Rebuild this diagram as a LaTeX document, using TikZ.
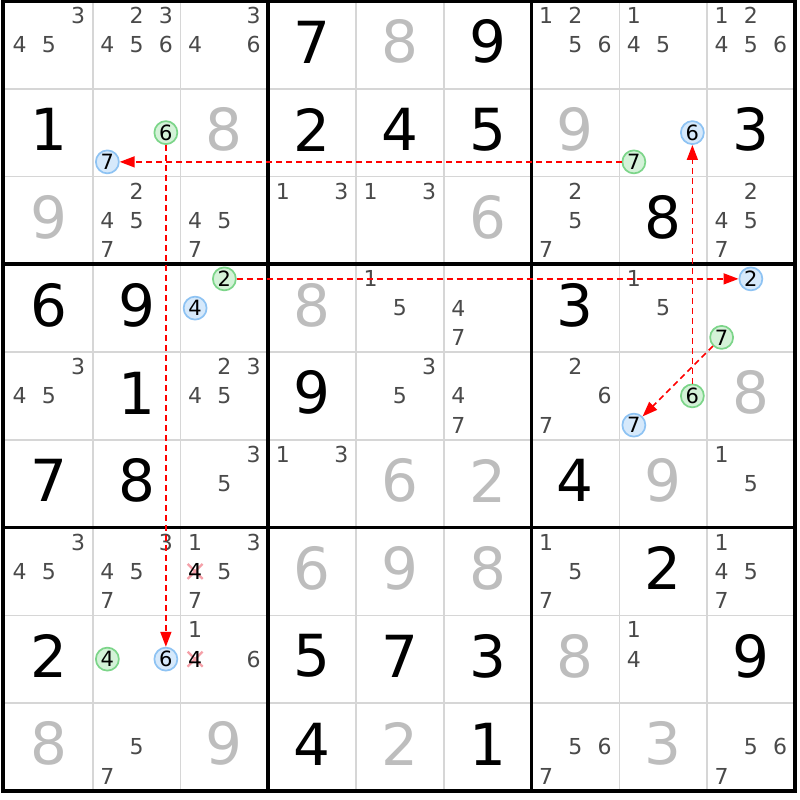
\documentclass[tikz,border=0pt]{standalone}
\usepackage{fontspec}
\setmainfont{DejaVu Sans}
\usetikzlibrary{arrows.meta}
\definecolor{thinc}{HTML}{D6D6D6}
\definecolor{candc}{HTML}{4A4A4A}
\definecolor{solvc}{HTML}{BDBDBD}
\definecolor{bfill}{HTML}{D6E9FB}
\definecolor{bdraw}{HTML}{8EC3F3}
\definecolor{gfill}{HTML}{D4F2D8}
\definecolor{gdraw}{HTML}{7CD589}
\definecolor{xcol}{HTML}{F5A0A8}
\definecolor{arrc}{HTML}{FF0000}
\newcommand\px[2]{5+(#1-1)*87.75+(mod(#2-1,3)+0.5)*29.25}
\newcommand\py[2]{1+(#1-1)*87.75+(floor((#2-1)/3)+0.5)*29.25}
\tikzset{
  thinl/.style={thinc, line width=1.5pt},
  thickl/.style={black, line width=3.6pt},
  given/.style={inner sep=0pt, text=black, font=\fontsize{58}{58}\selectfont},
  solved/.style={inner sep=0pt, text=solvc, font=\fontsize{58}{58}\selectfont},
  cand/.style={inner sep=0pt, text=candc, font=\fontsize{22}{22}\selectfont},
  candk/.style={inner sep=0pt, text=black, font=\fontsize{22}{22}\selectfont},
  bc/.style={circle, inner sep=0pt, minimum size=23pt, line width=1.7pt, draw=bdraw, fill=bfill, text=black, font=\fontsize{21}{21}\selectfont},
  gc/.style={circle, inner sep=0pt, minimum size=23pt, line width=1.7pt, draw=gdraw, fill=gfill, text=black, font=\fontsize{21}{21}\selectfont},
  xl/.style={xcol, line width=2.4pt},
  arr/.style={arrc, line width=1.6pt, dash pattern=on 6pt off 4pt, -{Triangle[length=15pt,width=11pt]}}
}
\newcommand\cands[3]{\foreach \d in {#3}{\node[cand] (k#1#2\d) at ({\px{#2}{\d}},{\py{#1}{\d}}) {\d};}}
\newcommand\bcirc[4]{\node[bc] (#1) at ({\px{#3}{#4}},{\py{#2}{#4}}) {#4};}
\newcommand\gcirc[4]{\node[gc] (#1) at ({\px{#3}{#4}},{\py{#2}{#4}}) {#4};}
\newcommand\xcand[3]{%
  \coordinate (x#1#2) at ({\px{#2}{#3}},{\py{#1}{#3}});
  \draw[xl] ([shift={(-7.5,-7.5)}]x#1#2) -- ([shift={(7.5,7.5)}]x#1#2);
  \draw[xl] ([shift={(-7.5,7.5)}]x#1#2) -- ([shift={(7.5,-7.5)}]x#1#2);
  \node[candk] (kx#1#2) at (x#1#2) {#3};}
\begin{document}
\begin{tikzpicture}[x=1pt,y=-1pt]
\useasboundingbox[fill=white] (0,0) rectangle (800,800);
% thin grid
\foreach \i in {1,2,4,5,7,8}{
  \draw[thinl] ({5+\i*87.75},1) -- ({5+\i*87.75},790.75);
  \draw[thinl] (5,{1+\i*87.75}) -- (794.75,{1+\i*87.75});
}
% thick grid
\foreach \i in {3,6}{
  \draw[thickl] ({5+\i*87.75},1) -- ({5+\i*87.75},790.75);
  \draw[thickl] (5,{1+\i*87.75}) -- (794.75,{1+\i*87.75});
}
\draw[thickl] (3.2,1) rectangle (794.75,790.75);
% given digits
\foreach \r/\c/\d in {1/4/7,1/6/9,2/1/1,2/4/2,2/5/4,2/6/5,2/9/3,3/8/8,4/1/6,4/2/9,4/7/3,5/2/1,5/4/9,6/1/7,6/2/8,6/7/4,7/8/2,8/1/2,8/4/5,8/5/7,8/6/3,8/9/9,9/4/4,9/6/1}
  \node[given] (G\r\c) at ({5+(\c-0.5)*87.75},{1+(\r-0.5)*87.75-3}) {\d};
% solved digits
\foreach \r/\c/\d in {1/5/8,2/3/8,2/7/9,3/1/9,3/6/6,4/4/8,5/9/8,6/5/6,6/6/2,6/8/9,7/4/6,7/5/9,7/6/8,8/7/8,9/1/8,9/3/9,9/5/2,9/8/3}
  \node[solved] (S\r\c) at ({5+(\c-0.5)*87.75},{1+(\r-0.5)*87.75-3}) {\d};
% candidates
\cands{1}{1}{3,4,5}
\cands{1}{2}{2,3,4,5,6}
\cands{1}{3}{3,4,6}
\cands{1}{7}{1,2,5,6}
\cands{1}{8}{1,4,5}
\cands{1}{9}{1,2,4,5,6}
\cands{3}{2}{2,4,5,7}
\cands{3}{3}{4,5,7}
\cands{3}{4}{1,3}
\cands{3}{5}{1,3}
\cands{3}{7}{2,5,7}
\cands{3}{9}{2,4,5,7}
\cands{4}{5}{1,5}
\cands{4}{6}{4,7}
\cands{4}{8}{1,5}
\cands{5}{1}{3,4,5}
\cands{5}{3}{2,3,4,5}
\cands{5}{5}{3,5}
\cands{5}{6}{4,7}
\cands{5}{7}{2,6,7}
\cands{6}{3}{3,5}
\cands{6}{4}{1,3}
\cands{6}{9}{1,5}
\cands{7}{1}{3,4,5}
\cands{7}{2}{3,4,5,7}
\cands{7}{3}{1,3,5,7}
\cands{7}{7}{1,5,7}
\cands{7}{9}{1,4,5,7}
\cands{8}{3}{1,6}
\cands{8}{8}{1,4}
\cands{9}{2}{5,7}
\cands{9}{7}{5,6,7}
\cands{9}{9}{5,6,7}
% eliminated candidates
\xcand{7}{3}{4}
\xcand{8}{3}{4}
% circled candidates
\gcirc{g26}{2}{2}{6}
\bcirc{b27}{2}{2}{7}
\bcirc{b286}{2}{8}{6}
\gcirc{g287}{2}{8}{7}
\gcirc{g432}{4}{3}{2}
\bcirc{b434}{4}{3}{4}
\bcirc{b492}{4}{9}{2}
\gcirc{g497}{4}{9}{7}
\gcirc{g586}{5}{8}{6}
\bcirc{b587}{5}{8}{7}
\gcirc{g824}{8}{2}{4}
\bcirc{b826}{8}{2}{6}
% links
\draw[arr] (g287) -- (b27);
\draw[arr] (g26) -- (b826);
\draw[arr] (g432) -- (b492);
\draw[arr] (g586) -- (b286);
\draw[arr] (g497) -- (b587);
\end{tikzpicture}
\end{document}
